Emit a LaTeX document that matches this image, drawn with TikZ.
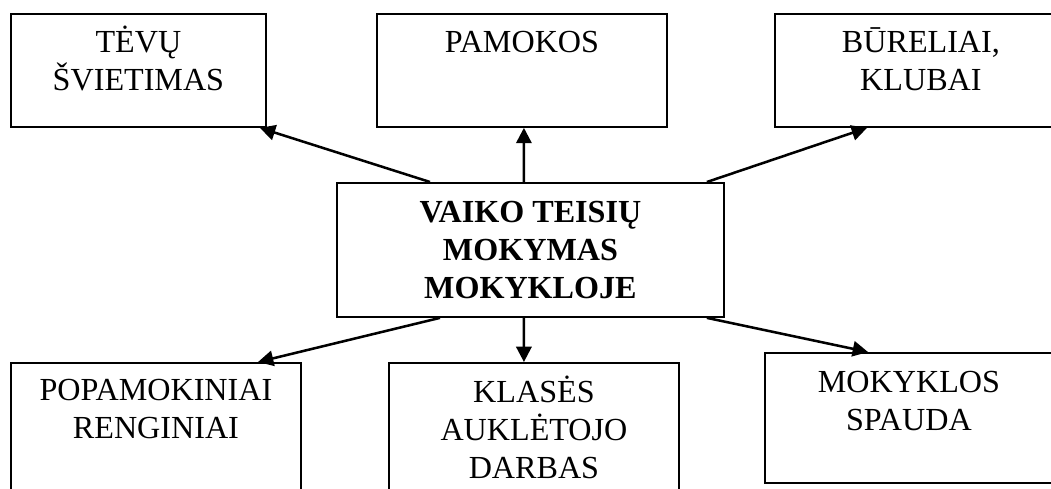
\documentclass[tikz,border=0pt]{standalone}
\usepackage{fontspec}
\setmainfont{Liberation Serif}
\usetikzlibrary{arrows.meta}
\begin{document}
\begin{tikzpicture}[x=0.75pt,y=-0.75pt,
  box/.style={draw,line width=1.4pt,minimum width=217.5pt,minimum height=84.75pt,inner sep=0pt,anchor=north west},
  txt/.style={anchor=base,align=center,inner sep=0pt,font=\fontsize{24.1}{28.5}\selectfont},
  arr/.style={line width=1.9pt,-{Triangle[length=11.5pt,width=11.5pt]}}]
\useasboundingbox (0,0) rectangle (1051,489);
\clip (0,0) rectangle (1051,489);
\node[box,minimum width=191.25pt] (tevu) at (10,13) {};
\node[box] (pam) at (376,13) {};
\node[box,minimum width=219pt] (bur) at (774,13) {};
\node[box,minimum width=290.25pt,minimum height=100.5pt] (ctr) at (336,182) {};
\node[box,minimum height=105pt] (popam) at (10,362) {};
\node[box,minimum height=105pt] (klas) at (388,362) {};
\node[box,minimum width=216pt,minimum height=97.5pt] (spaud) at (764,352) {};
\node[txt] (tevut) at ([yshift=-57.75pt]tevu.north) {TĖVŲ\\ŠVIETIMAS};
\node[txt] (pamt) at ([yshift=-29.25pt]pam.north) {PAMOKOS};
\node[txt] (burt) at ([yshift=-57.75pt]bur.north) {BŪRELIAI,\\KLUBAI};
\node[txt,font=\fontsize{24.1}{28.5}\selectfont\bfseries] (ctrt) at ([yshift=-87pt]ctr.north) {VAIKO TEISIŲ\\MOKYMAS\\MOKYKLOJE};
\node[txt] (popamt) at ([yshift=-57pt]popam.north) {POPAMOKINIAI\\RENGINIAI};
\node[txt] (klast) at ([yshift=-87pt]klas.north) {KLASĖS\\AUKLĖTOJO\\DARBAS};
\node[txt] (spaudt) at ([yshift=-58.5pt]spaud.north) {MOKYKLOS\\SPAUDA};
\draw[arr] ([xshift=70.5pt]ctr.north west) -- ([xshift=-5.25pt]tevu.south east);
\draw[arr] ([xshift=-4.9pt]ctr.north) -- ([xshift=1.5pt]pam.south);
\draw[arr] ([xshift=-13.5pt]ctr.north east) -- ([xshift=69.75pt]bur.south west);
\draw[arr] ([xshift=78pt]ctr.south west) -- ([xshift=186pt]popam.north west);
\draw[arr] ([xshift=-4.9pt]ctr.south) -- ([xshift=-7.5pt]klas.north);
\draw[arr] ([xshift=-13.5pt]ctr.south east) -- ([xshift=78pt]spaud.north west);
\end{tikzpicture}
\end{document}
